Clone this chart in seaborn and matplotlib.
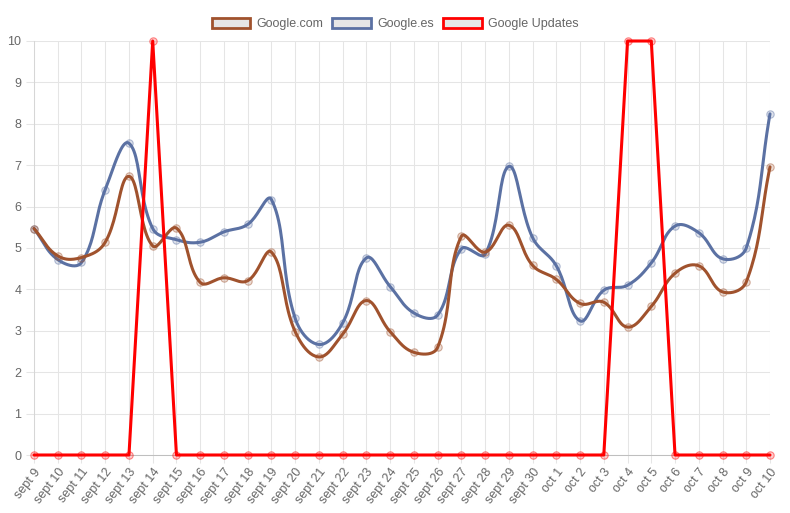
import numpy as np
import pandas as pd
import seaborn as sns
import matplotlib.pyplot as plt
from matplotlib.patches import Patch
from matplotlib.colors import to_rgba

# dados
dias = ['sept 9', 'sept 10', 'sept 11', 'sept 12', 'sept 13', 'sept 14', 'sept 15',
        'sept 16', 'sept 17', 'sept 18', 'sept 19', 'sept 20', 'sept 21', 'sept 22',
        'sept 23', 'sept 24', 'sept 25', 'sept 26', 'sept 27', 'sept 28', 'sept 29',
        'sept 30', 'oct 1', 'oct 2', 'oct 3', 'oct 4', 'oct 5', 'oct 6', 'oct 7',
        'oct 8', 'oct 9', 'oct 10']
google_com = [5.47, 4.81, 4.77, 5.14, 6.73, 5.05, 5.48, 4.17, 4.28, 4.21, 4.90, 2.98,
              2.37, 2.92, 3.73, 2.98, 2.48, 2.60, 5.28, 4.90, 5.55, 4.58, 4.24, 3.66,
              3.69, 3.09, 3.59, 4.39, 4.57, 3.94, 4.18, 6.96]
google_es = [5.47, 4.72, 4.65, 6.41, 7.53, 5.47, 5.20, 5.14, 5.39, 5.57, 6.17, 3.30,
             2.67, 3.19, 4.76, 4.07, 3.43, 3.38, 4.98, 4.85, 6.97, 5.25, 4.57, 3.24,
             3.98, 4.10, 4.64, 5.53, 5.37, 4.74, 5.00, 8.24]
google_updates = [0, 0, 0, 0, 0, 10, 0, 0, 0, 0, 0, 0, 0, 0, 0, 0, 0, 0, 0, 0, 0, 0,
                  0, 0, 0, 10, 10, 0, 0, 0, 0, 0]

cor_com = '#a0522d'
cor_es = '#5b71a3'
cor_upd = '#ff0000'

sns.set_theme(style="whitegrid")
plt.rcParams['font.family'] = ['Liberation Sans', 'DejaVu Sans']

df = pd.DataFrame({'x': np.arange(len(dias)), 'com': google_com,
                   'es': google_es, 'upd': google_updates})


# curva suave parecida com a do Chart.js (tensão 0.4, em pixels)
def curva(valores, tensao=0.4, sx=23.74, sy=41.4, n=24):
    px = np.arange(len(valores)) * sx
    py = np.array(valores, dtype=float) * sy
    k = len(px)
    ant = np.zeros((k, 2))
    prox = np.zeros((k, 2))
    for i in range(k):
        a = max(i - 1, 0)
        b = min(i + 1, k - 1)
        d01 = np.hypot(px[i] - px[a], py[i] - py[a])
        d12 = np.hypot(px[b] - px[i], py[b] - py[i])
        tot = d01 + d12
        s01 = d01 / tot if tot else 0
        s12 = d12 / tot if tot else 0
        dx, dy = px[b] - px[a], py[b] - py[a]
        ant[i] = (px[i] - tensao * s01 * dx, py[i] - tensao * s01 * dy)
        prox[i] = (px[i] + tensao * s12 * dx, py[i] + tensao * s12 * dy)
    t = np.linspace(0, 1, n)[:, None]
    partes = []
    for i in range(k - 1):
        p0 = np.array([px[i], py[i]])
        p3 = np.array([px[i + 1], py[i + 1]])
        p1, p2 = prox[i], ant[i + 1]
        seg = ((1 - t) ** 3) * p0 + 3 * ((1 - t) ** 2) * t * p1 + 3 * (1 - t) * t ** 2 * p2 + t ** 3 * p3
        partes.append(seg if i == 0 else seg[1:])
    pts = np.vstack(partes)
    return pts[:, 0] / sx, pts[:, 1] / sy


def pontos(coluna, cor, z):
    sns.scatterplot(data=df, x='x', y=coluna, ax=ax, s=28, color=to_rgba(cor, 0.2),
                    edgecolor=to_rgba(cor, 0.45), linewidth=0.8, zorder=z, clip_on=False)


fig = plt.figure(figsize=(7.9, 5.13), dpi=100)
ax = fig.add_axes([34 / 790, 1 - 455 / 513, 736 / 790, 414 / 513])

# Google.es (embaixo)
xs, ys = curva(google_es)
ax.plot(xs, ys, color=cor_es, lw=2.2, zorder=3, clip_on=False)
pontos('es', cor_es, 4)

# Google.com
xs, ys = curva(google_com)
ax.plot(xs, ys, color=cor_com, lw=2.2, zorder=5, clip_on=False)
pontos('com', cor_com, 6)

# Google Updates (linha reta)
sns.lineplot(data=df, x='x', y='upd', ax=ax, color=cor_upd, lw=2.2, zorder=7, clip_on=False)
pontos('upd', cor_upd, 8)

ax.set_xlim(0, len(dias) - 1)
ax.set_ylim(0, 10)
ax.set_xticks(range(len(dias)))
ax.set_xticklabels(dias, rotation=52, ha='right', rotation_mode='anchor')
ax.set_yticks(range(0, 11))
ax.set_xlabel('')
ax.set_ylabel('')

ax.grid(True, color='#e5e5e5', linewidth=0.75)
ax.set_axisbelow(True)
ax.tick_params(axis='both', length=6, width=0.75, color='#e5e5e5',
               labelsize=9, labelcolor='#666666', pad=3)
ax.tick_params(axis='x', pad=2)
ax.tick_params(left=True, bottom=True)
for lado in ['top', 'right']:
    ax.spines[lado].set_visible(False)
ax.spines['left'].set_color('#d6d6d6')
ax.spines['left'].set_linewidth(0.75)
ax.spines['bottom'].set_color('#bfbfbf')
ax.spines['bottom'].set_linewidth(0.75)
ax.set_facecolor('white')

handles = [Patch(facecolor='#e6e6e6', edgecolor=cor_com, linewidth=2, label='Google.com'),
           Patch(facecolor='#e6e6e6', edgecolor=cor_es, linewidth=2, label='Google.es'),
           Patch(facecolor='#e6e6e6', edgecolor=cor_upd, linewidth=2, label='Google Updates')]
leg = fig.legend(handles=handles, loc='center', bbox_to_anchor=(0.5, 1 - 24 / 513),
                 ncol=3, frameon=False, fontsize=9, handlelength=3.1, handleheight=0.9,
                 handletextpad=0.5, columnspacing=0.7)
for txt in leg.get_texts():
    txt.set_color('#666666')

fig.savefig('out.png', dpi=100)
